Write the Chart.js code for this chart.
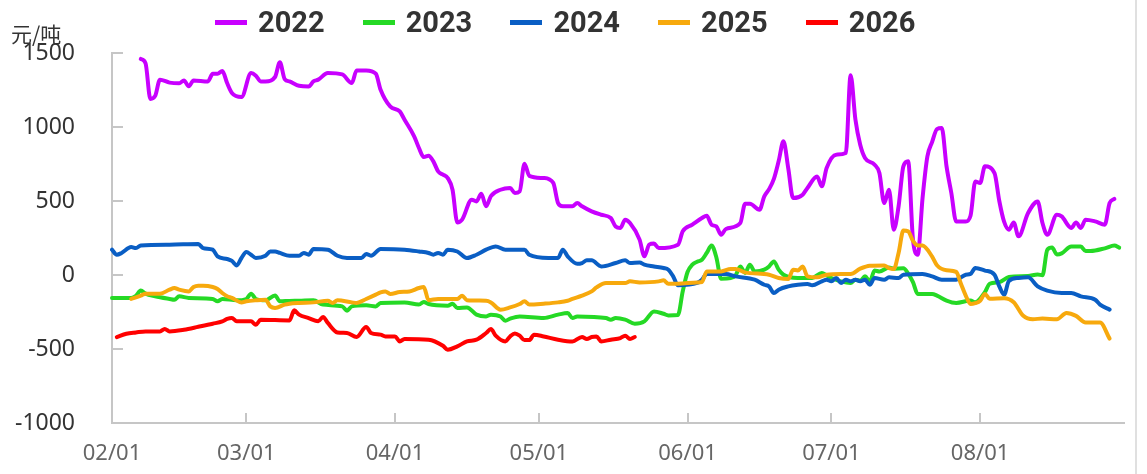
<!DOCTYPE html>
<html>
<head>
<meta charset="utf-8">
<script src="https://cdn.jsdelivr.net/npm/chart.js@4/dist/chart.umd.min.js"></script>
<style>
  body { margin: 0; background: #fff; }
  #wrap { position: relative; width: 1147px; height: 474px; background: #fff; overflow: hidden; }
  #chart { position: absolute; left: 0; top: 0; }
  #unit { position: absolute; left: 11px; top: 23px; font: 21px/21px "Noto Sans CJK SC", sans-serif; color: #333; }
  #legend { position: absolute; left: 215px; top: 7px; display: flex; }
  #legend .item { width: 147.7px; display: flex; align-items: center; height: 30px;
    font: bold 29px/30px Roboto, "Noto Sans", sans-serif; color: #333; }
  #legend .item i { display: inline-block; width: 32px; height: 5px; margin-right: 11px; }
  #edge { position: absolute; left: 1135px; top: 0; width: 2px; height: 474px; background: #e0e0e0; }
</style>
</head>
<body>
<div id="wrap">
  <canvas id="chart" width="1147" height="474"></canvas>
  <div id="unit">元/吨</div>
  <div id="legend"></div>
  <div id="edge"></div>
</div>
<script>
// 横轴：02/01 ~ 08/31 每日
const monthNames = ['02', '03', '04', '05', '06', '07', '08'];
const monthLengths = [28, 31, 30, 31, 30, 31, 31];
const dayLabels = [];
monthNames.forEach((m, i) => {
    for (let d = 1; d <= monthLengths[i]; d++) dayLabels.push(m + '/' + String(d).padStart(2, '0'));
});

const yMin = -1000, yMax = 1500, yStep = 500;

const seriesNames = ['2022', '2023', '2024', '2025', '2026'];
const seriesColors = ['#c800ff', '#25d925', '#0a5ec4', '#f7a90d', '#ff0000'];

// 数值（元/吨），按日期取点
const y2022 = [
    ['02/07', 1460], ['02/08', 1430], ['02/09', 1190], ['02/10', 1210], ['02/11', 1320], ['02/13', 1300],
    ['02/15', 1295], ['02/16', 1315], ['02/17', 1275], ['02/18', 1315], ['02/21', 1308], ['02/22', 1360],
    ['02/23', 1360], ['02/24', 1378], ['02/25', 1297], ['02/26', 1230], ['02/28', 1203], ['03/02', 1365],
    ['03/03', 1347], ['03/04', 1308], ['03/05', 1308], ['03/07', 1338], ['03/08', 1437], ['03/09', 1324],
    ['03/10', 1308], ['03/12', 1279], ['03/14', 1274], ['03/15', 1308], ['03/16', 1320], ['03/18', 1365],
    ['03/21', 1355], ['03/23', 1297], ['03/24', 1382], ['03/26', 1382], ['03/28', 1360], ['03/29', 1252],
    ['03/31', 1139], ['04/02', 1105], ['04/03', 1049], ['04/05', 937], ['04/06', 858], ['04/07', 797],
    ['04/08', 806], ['04/09', 768], ['04/10', 700], ['04/11', 678], ['04/12', 655], ['04/13', 576],
    ['04/14', 355], ['04/15', 374], ['04/17', 509], ['04/18', 497], ['04/19', 549], ['04/20', 464],
    ['04/21', 533], ['04/23', 576], ['04/25', 588], ['04/26', 554], ['04/27', 565], ['04/28', 752],
    ['04/29', 670], ['05/02', 655], ['05/04', 622], ['05/05', 486], ['05/06', 464], ['05/08', 464],
    ['05/09', 486], ['05/10', 464], ['05/12', 430], ['05/14', 407], ['05/16', 385], ['05/17', 328],
    ['05/18', 318], ['05/19', 374], ['05/20', 351], ['05/22', 239], ['05/23', 126], ['05/24', 205],
    ['05/25', 212], ['05/26', 182], ['05/30', 205], ['05/31', 295], ['06/02', 340], ['06/04', 385],
    ['06/05', 401], ['06/06', 340], ['06/07', 328], ['06/08', 272], ['06/09', 311], ['06/12', 351],
    ['06/13', 482], ['06/14', 482], ['06/16', 441], ['06/17', 531], ['06/18', 580], ['06/19', 650],
    ['06/20', 770], ['06/21', 903], ['06/22', 720], ['06/23', 520], ['06/25', 543], ['06/26', 588],
    ['06/28', 666], ['06/29', 599], ['06/30', 723], ['07/02', 813], ['07/04', 824], ['07/05', 1350],
    ['07/06', 1050], ['07/07', 880], ['07/08', 791], ['07/10', 745], ['07/11', 689], ['07/12', 486],
    ['07/13', 576], ['07/14', 306], ['07/15', 464], ['07/16', 734], ['07/17', 768], ['07/18', 239],
    ['07/19', 137], ['07/20', 520], ['07/21', 800], ['07/22', 900], ['07/23', 986], ['07/24', 993],
    ['07/25', 734], ['07/26', 554], ['07/27', 362], ['07/29', 362], ['07/30', 400], ['07/31', 632],
    ['08/01', 621], ['08/02', 734], ['08/04', 689], ['08/05', 500], ['08/06', 360], ['08/07', 306],
    ['08/08', 355], ['08/09', 261], ['08/11', 419], ['08/13', 497], ['08/14', 351], ['08/15', 272],
    ['08/17', 407], ['08/18', 396], ['08/20', 318], ['08/21', 355], ['08/22', 318], ['08/23', 374],
    ['08/25', 362], ['08/27', 340], ['08/28', 486], ['08/29', 514]
];

const y2023 = [
    ['02/01', -155], ['02/05', -155], ['02/06', -140], ['02/07', -104], ['02/08', -126], ['02/10', -144],
    ['02/13', -162], ['02/14', -167], ['02/15', -144], ['02/17', -155], ['02/22', -162], ['02/23', -178],
    ['02/24', -162], ['02/27', -171], ['03/01', -162], ['03/02', -126], ['03/03', -162], ['03/05', -171],
    ['03/07', -138], ['03/08', -178], ['03/10', -175], ['03/12', -174], ['03/15', -171], ['03/17', -200],
    ['03/21', -212], ['03/22', -241], ['03/23', -212], ['03/26', -205], ['03/28', -212], ['03/29', -189],
    ['04/03', -185], ['04/06', -200], ['04/07', -182], ['04/08', -196], ['04/12', -207], ['04/13', -194],
    ['04/14', -223], ['04/16', -219], ['04/18', -268], ['04/20', -280], ['04/21', -268], ['04/23', -280],
    ['04/24', -309], ['04/25', -295], ['04/27', -280], ['05/02', -291], ['05/05', -268], ['05/07', -257],
    ['05/08', -291], ['05/09', -280], ['05/15', -291], ['05/16', -302], ['05/17', -291], ['05/19', -302],
    ['05/21', -329], ['05/23', -313], ['05/25', -246], ['05/27', -262], ['05/28', -273], ['05/30', -270],
    ['05/31', -110], ['06/01', 20], ['06/02', 70], ['06/03', 90], ['06/04', 103], ['06/05', 149],
    ['06/06', 200], ['06/07', 120], ['06/08', -25], ['06/10', -20], ['06/11', -3], ['06/12', 58],
    ['06/13', 14], ['06/14', 70], ['06/15', 24], ['06/17', 36], ['06/18', 58], ['06/19', 92],
    ['06/20', 36], ['06/21', 2], ['06/24', -20], ['06/27', -20], ['06/29', 14], ['06/30', -3],
    ['07/01', -20], ['07/03', -43], ['07/05', -54], ['07/06', -32], ['07/07', -39], ['07/08', -9],
    ['07/09', -43], ['07/10', 30], ['07/11', 24], ['07/13', 51], ['07/14', 43], ['07/16', 45],
    ['07/17', 10], ['07/18', -48], ['07/19', -128], ['07/22', -128], ['07/23', -139], ['07/25', -173],
    ['07/27', -189], ['07/30', -173], ['07/31', -184], ['08/02', -116], ['08/03', -59], ['08/05', -48],
    ['08/07', -14], ['08/11', -7], ['08/13', 3], ['08/14', -2], ['08/15', 169], ['08/16', 185],
    ['08/17', 139], ['08/18', 146], ['08/20', 192], ['08/22', 192], ['08/23', 162], ['08/24', 162],
    ['08/27', 180], ['08/29', 199], ['08/30', 185]
];

const y2024 = [
    ['02/01', 171], ['02/02', 137], ['02/03', 149], ['02/05', 189], ['02/06', 182], ['02/07', 200],
    ['02/13', 205], ['02/19', 209], ['02/20', 182], ['02/22', 171], ['02/23', 126], ['02/25', 108],
    ['02/26', 95], ['02/27', 65], ['02/28', 115], ['03/01', 155], ['03/02', 137], ['03/03', 115],
    ['03/05', 130], ['03/06', 159], ['03/07', 159], ['03/08', 149], ['03/10', 130], ['03/12', 130],
    ['03/13', 149], ['03/14', 137], ['03/15', 176], ['03/18', 171], ['03/20', 130], ['03/22', 115],
    ['03/25', 115], ['03/26', 142], ['03/27', 130], ['03/29', 176], ['04/03', 171], ['04/06', 159],
    ['04/08', 149], ['04/09', 137], ['04/10', 149], ['04/11', 137], ['04/12', 171], ['04/14', 159],
    ['04/16', 115], ['04/18', 137], ['04/20', 171], ['04/22', 193], ['04/24', 171], ['04/28', 171],
    ['04/29', 137], ['05/03', 115], ['05/05', 115], ['05/06', 171], ['05/07', 126], ['05/09', 76],
    ['05/10', 81], ['05/11', 99], ['05/12', 99], ['05/14', 58], ['05/17', 81], ['05/19', 99],
    ['05/20', 81], ['05/22', 85], ['05/23', 70], ['05/25', 58], ['05/27', 47], ['05/28', 36],
    ['05/29', -9], ['05/30', -70], ['06/03', -54], ['06/04', -32], ['06/05', 7], ['06/09', 7],
    ['06/11', -9], ['06/15', -32], ['06/17', -66], ['06/18', -77], ['06/19', -122], ['06/20', -99],
    ['06/22', -77], ['06/24', -66], ['06/26', -61], ['06/27', -70], ['06/29', -43], ['06/30', -32],
    ['07/01', -43], ['07/02', -20], ['07/03', -54], ['07/04', -32], ['07/05', -43], ['07/06', -32],
    ['07/07', -43], ['07/08', -32], ['07/09', -66], ['07/10', -20], ['07/12', -32], ['07/13', -16],
    ['07/15', -20], ['07/16', 2], ['07/20', 7], ['07/22', -9], ['07/24', -32], ['07/27', -32],
    ['07/29', 2], ['07/30', 7], ['07/31', 47], ['08/02', 30], ['08/04', 2], ['08/05', -77],
    ['08/06', -133], ['08/07', -40], ['08/09', -20], ['08/11', -16], ['08/13', -77], ['08/15', -106],
    ['08/18', -122], ['08/20', -122], ['08/22', -144], ['08/25', -167], ['08/26', -200], ['08/28', -234]
];

const y2025 = [
    ['02/05', -162], ['02/07', -140], ['02/08', -126], ['02/11', -126], ['02/13', -99], ['02/14', -88],
    ['02/15', -99], ['02/17', -111], ['02/18', -81], ['02/19', -72], ['02/20', -72], ['02/22', -81],
    ['02/23', -95], ['02/24', -122], ['02/25', -144], ['02/26', -155], ['02/28', -185], ['03/01', -178],
    ['03/03', -171], ['03/05', -167], ['03/06', -212], ['03/07', -223], ['03/09', -200], ['03/10', -194],
    ['03/12', -189], ['03/15', -185], ['03/18', -174], ['03/19', -189], ['03/20', -171], ['03/23', -185],
    ['03/24', -189], ['03/26', -162], ['03/28', -133], ['03/29', -117], ['03/30', -111], ['03/31', -128],
    ['04/02', -115], ['04/04', -111], ['04/06', -88], ['04/07', -81], ['04/08', -170], ['04/10', -162],
    ['04/14', -162], ['04/15', -140], ['04/16', -170], ['04/20', -174], ['04/21', -185], ['04/23', -234],
    ['04/25', -219], ['04/27', -196], ['04/28', -178], ['04/29', -200], ['05/02', -194], ['05/05', -185],
    ['05/07', -174], ['05/08', -162], ['05/10', -140], ['05/12', -111], ['05/13', -84], ['05/15', -54],
    ['05/19', -54], ['05/20', -43], ['05/22', -50], ['05/26', -43], ['05/27', -36], ['05/28', -59],
    ['05/30', -59], ['06/03', -50], ['06/04', -47], ['06/05', 24], ['06/08', 24], ['06/10', 41],
    ['06/11', 41], ['06/13', 18], ['06/18', 2], ['06/20', -20], ['06/22', -27], ['06/23', 36],
    ['06/24', 31], ['06/25', 58], ['06/26', -9], ['06/28', -16], ['06/30', 2], ['07/03', 7],
    ['07/05', 7], ['07/07', 43], ['07/09', 63], ['07/12', 65], ['07/13', 47], ['07/14', 41],
    ['07/15', 149], ['07/16', 300], ['07/17', 295], ['07/18', 230], ['07/19', 200], ['07/20', 199],
    ['07/22', 124], ['07/23', 66], ['07/25', 32], ['07/27', 21], ['07/28', -59], ['07/29', -139],
    ['07/30', -196], ['07/31', -190], ['08/01', -175], ['08/02', -128], ['08/03', -161], ['08/06', -157],
    ['08/08', -184], ['08/10', -276], ['08/12', -299], ['08/14', -294], ['08/17', -299], ['08/19', -257],
    ['08/21', -276], ['08/23', -321], ['08/26', -321], ['08/28', -430]
];

const y2026 = [
    ['02/02', -420], ['02/04', -397], ['02/06', -388], ['02/08', -381], ['02/11', -381], ['02/12', -365],
    ['02/13', -381], ['02/16', -370], ['02/19', -350], ['02/22', -329], ['02/24', -313], ['02/25', -297],
    ['02/26', -291], ['02/27', -313], ['03/02', -313], ['03/03', -336], ['03/04', -302], ['03/10', -307],
    ['03/11', -239], ['03/12', -268], ['03/14', -291], ['03/16', -313], ['03/17', -284], ['03/18', -324],
    ['03/20', -388], ['03/22', -392], ['03/24', -419], ['03/26', -351], ['03/27', -392], ['03/29', -403],
    ['03/30', -415], ['04/01', -415], ['04/02', -449], ['04/03', -432], ['04/08', -437], ['04/11', -478],
    ['04/12', -505], ['04/14', -482], ['04/16', -449], ['04/18', -437], ['04/20', -392], ['04/21', -365],
    ['04/22', -410], ['04/24', -449], ['04/25', -415], ['04/26', -395], ['04/27', -410], ['04/28', -440],
    ['04/29', -440], ['04/30', -403], ['05/02', -415], ['05/05', -437], ['05/08', -449], ['05/10', -419],
    ['05/11', -432], ['05/12', -419], ['05/13', -415], ['05/14', -449], ['05/16', -437], ['05/18', -426],
    ['05/19', -410], ['05/20', -432], ['05/21', -419]
];

const seriesData = [y2022, y2023, y2024, y2025, y2026];
const axisColor = '#c6c6c6';

// 坐标轴向内的刻度线
const innerTicks = {
    id: 'innerTicks',
    beforeDatasetsDraw(chart) {
        const { ctx, chartArea, scales: { x, y } } = chart;
        ctx.save();
        ctx.strokeStyle = axisColor;
        ctx.lineWidth = 2;
        ctx.beginPath();
        y.ticks.forEach(t => {
            const py = Math.round(y.getPixelForValue(t.value));
            ctx.moveTo(chartArea.left, py);
            ctx.lineTo(chartArea.left + 11, py);
        });
        dayLabels.forEach((l, i) => {
            if (i > 0 && l.endsWith('/01')) {
                const px = Math.round(x.getPixelForValue(i));
                ctx.moveTo(px, chartArea.bottom);
                ctx.lineTo(px, chartArea.bottom - 10);
            }
        });
        ctx.stroke();
        ctx.restore();
    }
};

const datasets = seriesNames.map((name, i) => ({
    label: name,
    data: seriesData[i].map(([d, v]) => ({ x: d, y: v })),
    borderColor: seriesColors[i],
    backgroundColor: seriesColors[i],
    borderWidth: 4,
    pointRadius: 0,
    cubicInterpolationMode: 'monotone',
    borderJoinStyle: 'round',
    borderCapStyle: 'round',
    fill: false,
    order: seriesNames.length - i
}));

new Chart(document.getElementById('chart').getContext('2d'), {
    type: 'line',
    data: { labels: dayLabels, datasets: datasets },
    options: {
        responsive: false,
        animation: false,
        devicePixelRatio: 1,
        layout: { padding: { top: 53, right: 23, bottom: 0, left: 0 } },
        plugins: {
            legend: { display: false },
            tooltip: { enabled: false }
        },
        scales: {
            x: {
                type: 'category',
                offset: false,
                grid: { display: false, drawTicks: false },
                border: { display: true, color: axisColor, width: 2 },
                ticks: {
                    autoSkip: false,
                    maxRotation: 0,
                    minRotation: 0,
                    padding: 18,
                    color: '#666',
                    font: { family: 'Noto Sans', size: 22 },
                    callback: (v, i) => dayLabels[i].endsWith('/01') ? dayLabels[i] : null
                },
                afterFit: s => { s.height = 51; }
            },
            y: {
                min: yMin,
                max: yMax,
                grid: { display: false, drawTicks: false },
                border: { display: true, color: axisColor, width: 2 },
                ticks: {
                    stepSize: yStep,
                    padding: 37,
                    color: '#333',
                    font: { family: 'Noto Sans', size: 23 },
                    callback: v => String(v)
                },
                afterFit: s => { s.width = 112; }
            }
        }
    },
    plugins: [innerTicks]
});

// 图例
const legend = document.getElementById('legend');
seriesNames.forEach((name, i) => {
    const item = document.createElement('span');
    item.className = 'item';
    const mark = document.createElement('i');
    mark.style.background = seriesColors[i];
    item.appendChild(mark);
    item.appendChild(document.createTextNode(name));
    legend.appendChild(item);
});
</script>
</body>
</html>
